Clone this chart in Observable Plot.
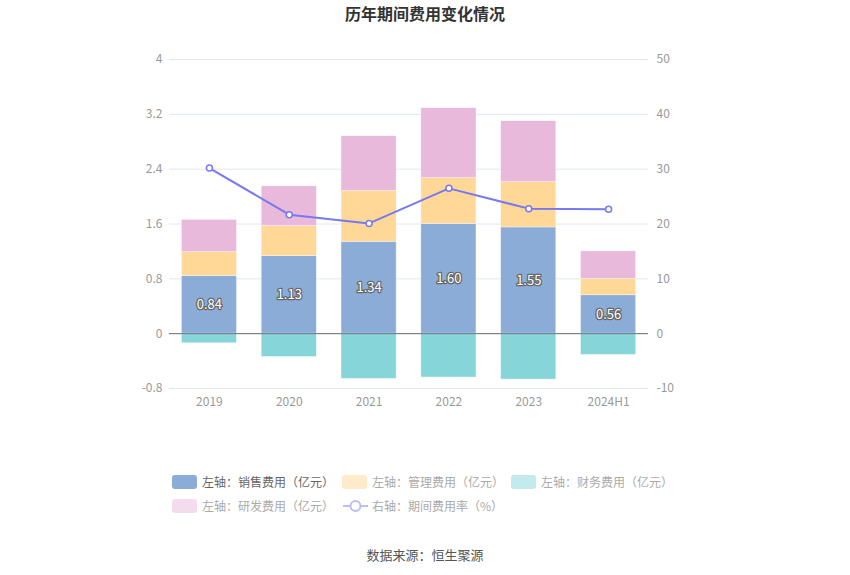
<!DOCTYPE html>
<html>
<head>
<meta charset="utf-8">
<script src="https://cdn.jsdelivr.net/npm/d3@7"></script>
<script src="https://cdn.jsdelivr.net/npm/@observablehq/plot@0.6"></script>
<style>
  body { margin: 0; background: #fff; font-family: "Noto Sans CJK SC", "Noto Sans", sans-serif; }
  #wrap { position: relative; width: 850px; height: 575px; }
  #title { position: absolute; left: 0; top: 1px; width: 850px; text-align: center; font-size: 16px; font-weight: bold; color: #333; }
  #chart { position: absolute; left: 0; top: 30px; }
  .lg { position: absolute; font-size: 12px; color: #999; white-space: nowrap; line-height: 14px; }
  .sw { position: absolute; width: 25px; height: 14px; border-radius: 3px; }
  #caption { position: absolute; left: 0; top: 545px; width: 850px; text-align: center; font-size: 13px; color: #555; }
</style>
</head>
<body>
<div id="wrap">
  <div id="title">历年期间费用变化情况</div>
  <div id="chart"></div>
  <div id="legend"></div>
  <div id="caption">数据来源：恒生聚源</div>
</div>
<script>
const categories = ["2019", "2020", "2021", "2022", "2023", "2024H1"];
const sales = [0.84, 1.13, 1.34, 1.60, 1.55, 0.56];
const admin = [0.35, 0.44, 0.74, 0.67, 0.66, 0.24];
const finance = [-0.14, -0.34, -0.66, -0.64, -0.67, -0.31];
const rnd = [0.47, 0.58, 0.80, 1.02, 0.89, 0.40];
const rate = [30.2, 21.7, 20.1, 26.5, 22.8, 22.7];
const seriesNames = ["左轴：销售费用（亿元）", "左轴：管理费用（亿元）", "左轴：财务费用（亿元）", "左轴：研发费用（亿元）"];
const lineName = "右轴：期间费用率（%）";
const seriesColors = ["#8CACD8", "#FFD897", "#86D5D8", "#E8B9DA"];
const lineColor = "#7878F0";
const yTicks = [-0.8, 0, 0.8, 1.6, 2.4, 3.2, 4];
const rightScale = 50 / 4;

const seriesValues = [sales, admin, finance, rnd];
const barData = [];
categories.forEach((c, i) => {
  seriesValues.forEach((arr, s) => barData.push({cat: c, series: seriesNames[s], value: arr[i]}));
});
const lineData = categories.map((c, i) => ({cat: c, rate: rate[i]}));
const labelData = categories.map((c, i) => ({cat: c, v: sales[i]}));

const plot = Plot.plot({
  width: 850,
  height: 390,
  marginTop: 29,
  marginBottom: 32,
  marginLeft: 169,
  marginRight: 202,
  style: {fontSize: "12px", fontFamily: "'Noto Sans CJK SC', 'Noto Sans', sans-serif", background: "transparent"},
  x: {domain: categories, paddingInner: 0.31, paddingOuter: 0.155, round: false},
  y: {domain: [-0.8, 4]},
  color: {domain: seriesNames, range: seriesColors},
  marks: [
    Plot.gridY(yTicks, {stroke: "#E0E6F1", strokeOpacity: 1}),
    Plot.barY(barData, Plot.stackY({x: "cat", y: "value", fill: "series", stroke: "#fff", strokeWidth: 0.6, strokeOpacity: 0.6})),
    Plot.ruleY([0], {stroke: "#6E7079", strokeWidth: 1}),
    Plot.text(labelData, {x: "cat", y: d => d.v / 2, text: d => d.v.toFixed(2), fill: "#fff", stroke: "#666", strokeWidth: 2.5, fontSize: 13}),
    Plot.line(lineData, {x: "cat", y: d => d.rate / rightScale, stroke: lineColor, strokeWidth: 2}),
    Plot.dot(lineData, {x: "cat", y: d => d.rate / rightScale, r: 3, fill: "#fff", stroke: lineColor, strokeWidth: 1.5}),
    Plot.axisY(yTicks, {anchor: "left", tickSize: 0, tickPadding: 7, label: null, color: "#999", tickFormat: d => String(d)}),
    Plot.axisY(yTicks, {anchor: "right", tickSize: 0, tickPadding: 8, label: null, color: "#999", tickFormat: d => String(Math.round(d * rightScale))}),
    Plot.axisX({tickSize: 0, tickPadding: 9, label: null, color: "#999"})
  ]
});
document.getElementById("chart").appendChild(plot);

// legend
const legend = document.getElementById("legend");
const fadedColors = ["#8CACD8", "#FFEBC9", "#C3EAEC", "#F3DDED"];
const items = [
  {x: 172, y: 475, name: seriesNames[0], color: fadedColors[0], text: "#666"},
  {x: 342, y: 475, name: seriesNames[1], color: fadedColors[1], text: "#aaa"},
  {x: 511, y: 475, name: seriesNames[2], color: fadedColors[2], text: "#aaa"},
  {x: 172, y: 499, name: seriesNames[3], color: fadedColors[3], text: "#aaa"}
];
items.forEach(it => {
  const sw = document.createElement("div");
  sw.className = "sw";
  sw.style.left = it.x + "px"; sw.style.top = it.y + "px"; sw.style.background = it.color;
  legend.appendChild(sw);
  const t = document.createElement("div");
  t.className = "lg";
  t.style.left = (it.x + 30) + "px"; t.style.top = it.y + "px"; t.style.color = it.text;
  t.textContent = it.name;
  legend.appendChild(t);
});
const lsvg = d3.select(legend).append("svg")
  .style("position", "absolute").style("left", "342px").style("top", "497px")
  .attr("width", 28).attr("height", 18);
lsvg.append("line").attr("x1", 1).attr("x2", 26).attr("y1", 9).attr("y2", 9).attr("stroke", "#BCBCF7").attr("stroke-width", 2);
lsvg.append("circle").attr("cx", 13.5).attr("cy", 9).attr("r", 5).attr("fill", "#fff").attr("stroke", "#BCBCF7").attr("stroke-width", 2);
const lt = document.createElement("div");
lt.className = "lg";
lt.style.left = "372px"; lt.style.top = "499px"; lt.style.color = "#aaa";
lt.textContent = lineName;
legend.appendChild(lt);
</script>
</body>
</html>
